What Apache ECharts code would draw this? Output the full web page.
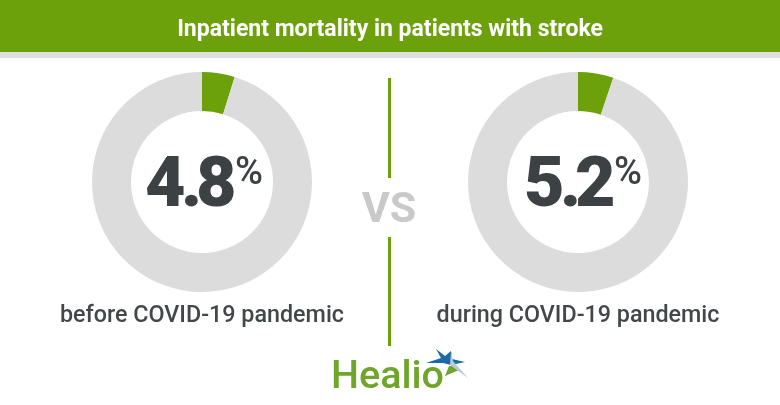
<!DOCTYPE html>
<html>
<head>
<meta charset="utf-8">
<style>html,body{margin:0;padding:0;background:#fff}#chart{width:780px;height:405px}</style>
<script src="https://cdn.jsdelivr.net/npm/echarts@6/dist/echarts.min.js"></script>
</head>
<body>
<div id="chart"></div>
<script>
var titleText = 'Inpatient mortality in patients with stroke';
var periods = ['before COVID-19 pandemic', 'during COVID-19 pandemic'];
var mortality = [4.8, 5.2];
var centers = [[202, 182], [578, 182]];
var green = '#6ca10c', ringGrey = '#dcdcdc', dark = '#3c4143';

var myChart = echarts.init(document.getElementById('chart'), null, {renderer: 'canvas'});

function ring(i) {
	return {
		type: 'pie',
		silent: true,
		center: centers[i],
		radius: [71, 110],
		startAngle: 90,
		clockwise: true,
		label: {show: false},
		labelLine: {show: false},
		data: [
			{value: mortality[i], itemStyle: {color: green}},
			{value: 100 - mortality[i], itemStyle: {color: ringGrey}}
		]
	};
}

function txt(x, y, text, size, weight, color, align) {
	return {
		type: 'text', x: x, y: y, z: 10,
		style: {
			text: text, fill: color,
			font: weight + ' ' + size + 'px Roboto, sans-serif',
			textAlign: align || 'center', textVerticalAlign: 'middle'
		}
	};
}

function band(x, y, w, h, color) {
	return {type: 'rect', shape: {x: x, y: y, width: w, height: h}, style: {fill: color}, z: 1};
}

function poly(points, color, z) {
	return {type: 'polygon', shape: {points: points}, style: {fill: color}, z: z || 11};
}

// big number, tightly set glyph by glyph because the original face is narrower
function bigNumber(value, x, y) {
	var s = value.toFixed(1);
	return [
		txt(x, y, s.charAt(0), 70, '900', dark, 'left'),
		txt(x + 36, y, s.charAt(1), 70, '900', dark, 'left'),
		txt(x + 51, y, s.charAt(2), 70, '900', dark, 'left')
	];
}

var graphics = [
	band(0, 0, 780, 52, green),
	band(0, 52, 780, 6, '#dedede'),
	band(388, 78, 3, 100, green),
	band(388, 237, 3, 109, green),
	txt(390, 30, titleText, 23, 'bold', '#fff'),
	txt(389, 211, 'VS', 43, 'bold', '#c9c9c9'),
	txt(202, 316, periods[0], 23.3, '500', '#42474a'),
	txt(578, 316, periods[1], 23.3, '500', '#42474a'),
	txt(235, 174, '%', 38, '500', dark, 'left'),
	txt(614, 174, '%', 38, '500', dark, 'left'),
	txt(331, 378, 'Healio', 39.5, '500', '#6fa52a', 'left'),
	poly([[436, 349], [445, 356], [451, 351], [452, 359], [465, 362], [451, 365], [443, 363], [426, 363], [441, 358]], '#1a6aa8'),
	poly([[445, 376], [449, 366], [453, 366], [459, 370]], '#6fa52a'),
	poly([[451, 351], [453, 361], [468, 378], [450, 365]], '#b9c9d8', 12)
].concat(bigNumber(mortality[0], 145, 188), bigNumber(mortality[1], 524, 188));

myChart.setOption({
	animation: false,
	backgroundColor: '#fff',
	series: [ring(0), ring(1)],
	graphic: graphics
});
</script>
</body>
</html>
